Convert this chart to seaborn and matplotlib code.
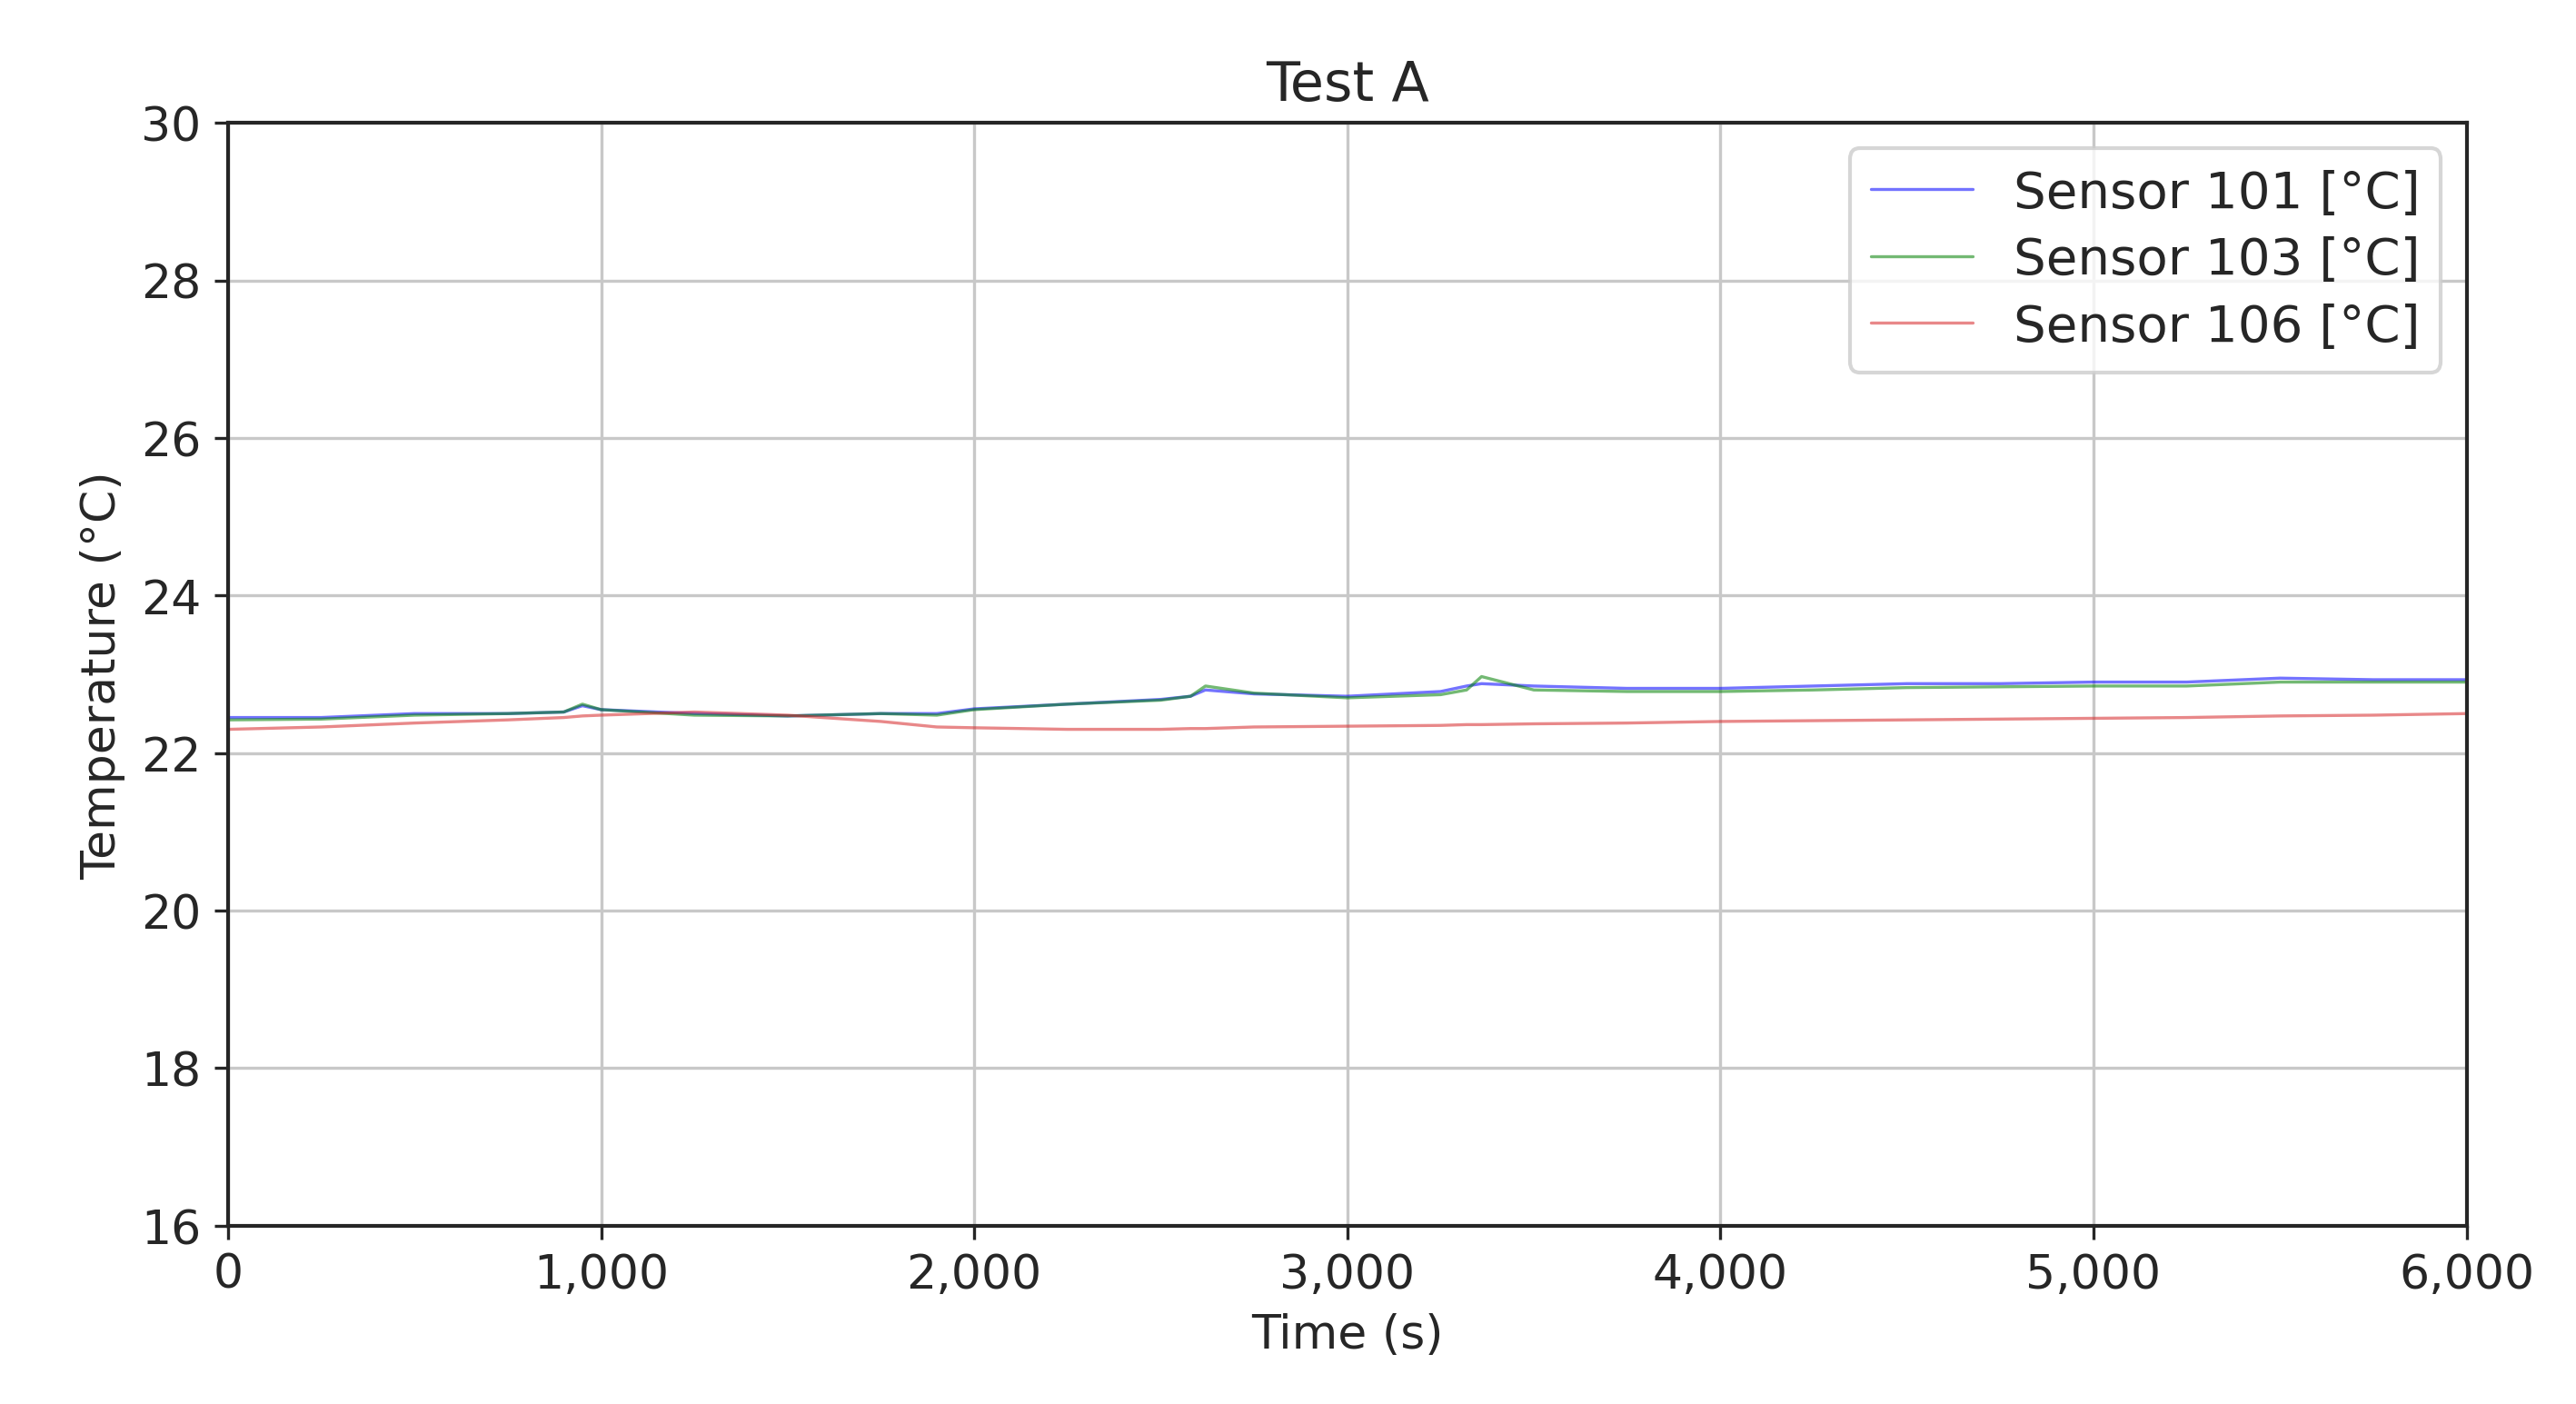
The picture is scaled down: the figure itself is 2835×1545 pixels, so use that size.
import matplotlib
matplotlib.use("Agg")
import matplotlib.pyplot as plt
import seaborn as sns
import pandas as pd
from matplotlib.ticker import FuncFormatter

time_s = [0, 250, 500, 750, 900, 950, 1000, 1250, 1500, 1750, 1900, 2000, 2250, 2500, 2580, 2620, 2750,
          3000, 3250, 3320, 3360, 3500, 3750, 4000, 4250, 4500, 4750, 5000, 5250, 5500, 5750, 6000]
sensor101 = [22.45, 22.45, 22.5, 22.5, 22.52, 22.6, 22.55, 22.5, 22.47, 22.5, 22.5, 22.56, 22.62, 22.68, 22.72, 22.8,
             22.75, 22.72, 22.78, 22.85, 22.88, 22.85, 22.82, 22.82, 22.85, 22.88, 22.88, 22.9, 22.9, 22.95, 22.93, 22.93]
sensor103 = [22.42, 22.43, 22.48, 22.5, 22.52, 22.62, 22.55, 22.48, 22.47, 22.5, 22.48, 22.55, 22.62, 22.67, 22.72, 22.85,
             22.76, 22.7, 22.74, 22.8, 22.97, 22.8, 22.78, 22.78, 22.8, 22.83, 22.84, 22.85, 22.85, 22.9, 22.9, 22.9]
sensor106 = [22.3, 22.33, 22.38, 22.42, 22.45, 22.47, 22.48, 22.52, 22.48, 22.4, 22.33, 22.32, 22.3, 22.3, 22.31, 22.31,
             22.33, 22.34, 22.35, 22.36, 22.36, 22.37, 22.38, 22.4, 22.41, 22.42, 22.43, 22.44, 22.45, 22.47, 22.48, 22.5]
labels = ["Sensor 101 [°C]", "Sensor 103 [°C]", "Sensor 106 [°C]"]
colors = ["blue", "green", "tab:red"]

rows = []
for lab, vals in zip(labels, [sensor101, sensor103, sensor106]):
    for t, v in zip(time_s, vals):
        rows.append((t, v, lab))
df = pd.DataFrame(rows, columns=["t", "v", "s"])

sns.set_style("ticks")
plt.rcParams['font.family'] = ['DejaVu Sans']
fig = plt.figure(figsize=(9.45, 5.153), dpi=300)
ax = fig.add_axes([0.0885, 0.127, 0.869, 0.785])
sns.lineplot(data=df, x="t", y="v", hue="s", palette=dict(zip(labels, colors)), ax=ax,
             linewidth=0.8, alpha=0.55)
ax.set_xlim(0, 6000)
ax.set_ylim(16, 30)
ax.set_yticks(range(16, 31, 2))
ax.xaxis.set_major_formatter(FuncFormatter(lambda x, p: f"{int(x):,}"))
ax.grid(True, color="#c8c8c8", linewidth=0.8)
ax.tick_params(labelsize=12.5)
ax.set_xlabel("Time (s)", fontsize=12.5)
ax.set_ylabel("Temperature (°C)", fontsize=12.5)
ax.set_title("Test A", fontsize=14.5)
for sp in ax.spines.values():
    sp.set_linewidth(1.0)
ax.legend(title=None, loc="upper right", fontsize=13.5, labelspacing=0.35)
fig.savefig("out.png", dpi=300)
